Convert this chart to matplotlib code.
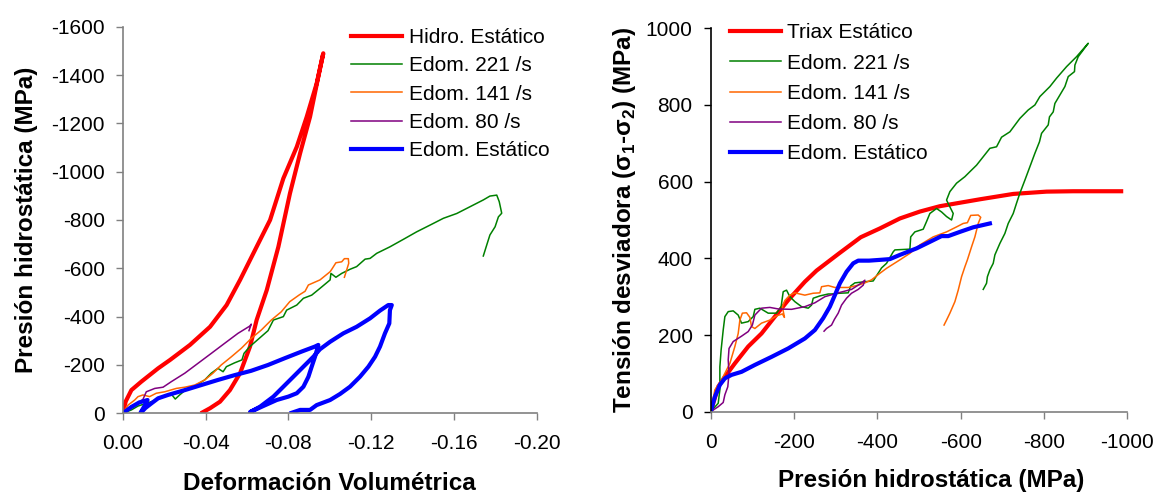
import matplotlib
matplotlib.use("Agg")
import matplotlib.pyplot as plt

plt.rcParams['font.family'] = ['Liberation Sans', 'DejaVu Sans']
plt.rcParams['mathtext.fontset'] = 'custom'
plt.rcParams['mathtext.rm'] = 'Liberation Sans'
plt.rcParams['mathtext.bf'] = 'Liberation Sans:bold'
plt.rcParams['axes.unicode_minus'] = False

# ---------------- Left panel data (Deformación volumétrica vs Presión hidrostática)
hidro_x = [0, -0.0015, -0.0042, -0.0090, -0.0171, -0.0229, -0.0325, -0.0422, -0.0502, -0.0567,
           -0.0647, -0.0712, -0.0776, -0.0841, -0.0889, -0.0937, -0.0969,
           -0.0945, -0.0905, -0.0857, -0.0808, -0.0752, -0.0696, -0.0647, -0.0615, -0.0567,
           -0.0518, -0.0470, -0.0422, -0.0386]
hidro_y = [0, -50, -96, -131, -186, -221, -283, -358, -448, -552,
           -689, -800, -972, -1103, -1227, -1365, -1490,
           -1393, -1227, -1076, -910, -689, -510, -386, -276, -166,
           -96, -48, -21, -4]

e221_x = [0, -0.0042, -0.0074, -0.0138, -0.0203, -0.0235, -0.0254, -0.0275, -0.0307, -0.0356,
          -0.0396, -0.0428, -0.0460, -0.0485, -0.0501, -0.0541, -0.0576, -0.0586, -0.0614, -0.0654,
          -0.0702, -0.0728, -0.0776, -0.0792, -0.0841, -0.0873, -0.0913, -0.0953, -0.1002, -0.1006,
          -0.1030, -0.1058, -0.1098, -0.1130, -0.1171, -0.1195, -0.1227, -0.1291, -0.1356, -0.1420,
          -0.1485, -0.1549, -0.1614, -0.1678, -0.1742, -0.1774, -0.1807, -0.1819, -0.1831, -0.1815,
          -0.1799, -0.1774, -0.1761, -0.1742]
e221_y = [0, -14, -30, -48, -69, -79, -59, -76, -99, -117,
          -138, -166, -186, -172, -193, -209, -221, -248, -276, -306,
          -342, -386, -400, -427, -448, -476, -489, -517, -552, -579,
          -563, -579, -596, -607, -638, -641, -662, -689, -720, -751,
          -779, -807, -827, -855, -883, -899, -903, -876, -828, -813,
          -772, -738, -703, -651]

e141_x = [0, -0.0026, -0.0058, -0.0074, -0.0098, -0.0130, -0.0162, -0.0203, -0.0259, -0.0300,
          -0.0348, -0.0396, -0.0436, -0.0476, -0.0525, -0.0573, -0.0621, -0.0670, -0.0718, -0.0766,
          -0.0807, -0.0853, -0.0881, -0.0897, -0.0953, -0.1002, -0.1010, -0.1030, -0.1058, -0.1071,
          -0.1090, -0.1092, -0.1082, -0.1071]
e141_y = [0, -34, -55, -69, -76, -69, -83, -89, -103, -108,
          -117, -138, -166, -200, -234, -269, -310, -345, -386, -420,
          -462, -490, -505, -531, -552, -586, -596, -623, -627, -640,
          -640, -621, -593, -563]

e80_x = [0, -0.0040, -0.0080, -0.0098, -0.0114, -0.0155, -0.0195, -0.0235, -0.0300, -0.0364,
         -0.0428, -0.0493, -0.0557, -0.0614, -0.0621, -0.0610]
e80_y = [0, -30, -45, -58, -89, -103, -108, -131, -166, -207,
         -248, -290, -331, -361, -369, -342]

edom_x = [0, -0.0040, -0.0080, -0.0120, -0.0105, -0.0090, -0.0085, -0.0110, -0.0140, -0.0171,
          -0.0219, -0.0300, -0.0380, -0.0460, -0.0541, -0.0621, -0.0702, -0.0783, -0.0863, -0.0928,
          -0.0945, -0.0929, -0.0913, -0.0897, -0.0873, -0.0841, -0.0800, -0.0744, -0.0679, -0.0615,
          -0.0663, -0.0728, -0.0776, -0.0824, -0.0873, -0.0921, -0.0953, -0.1002, -0.1066, -0.1130,
          -0.1195, -0.1243, -0.1283, -0.1300, -0.1291, -0.1288, -0.1267, -0.1243, -0.1219, -0.1187,
          -0.1146, -0.1098, -0.1050, -0.1002, -0.0937, -0.0905, -0.0857, -0.0816]
edom_y = [0, -25, -45, -55, -30, -8, 0, -22, -42, -62,
          -76, -96, -117, -138, -158, -176, -200, -228, -255, -276,
          -283, -234, -193, -151, -110, -83, -69, -55, -30, -5,
          -27, -69, -110, -151, -193, -234, -265, -296, -331, -358,
          -393, -425, -448, -448, -427, -372, -331, -276, -234, -193,
          -151, -110, -80, -55, -34, -14, -14, -2]

left_xticks = [0.0, -0.04, -0.08, -0.12, -0.16, -0.20]
left_xticklabels = ['0.00', '-0.04', '-0.08', '-0.12', '-0.16', '-0.20']
left_yticks = [0, -200, -400, -600, -800, -1000, -1200, -1400, -1600]
left_yticklabels = ['0', '-200', '-400', '-600', '-800', '-1000', '-1200', '-1400', '-1600']

# ---------------- Right panel data (Presión hidrostática vs Tensión desviadora)
triax_x = [0, -18, -34, -58, -90, -122, -154, -186, -226, -254, -307, -360, -406, -454, -502,
           -550, -598, -646, -726, -806, -870, -985]
triax_y = [0, 65, 91, 126, 170, 204, 248, 291, 339, 368, 412, 455, 478, 504, 522,
           536, 545, 554, 568, 574, 575, 575]

r221_x = [0, -18, -22, -22, -25, -30, -34, -42, -54, -66, -74, -90, -102, -106, -118, -138, -158,
          -169, -174, -182, -190, -202, -218, -234, -242, -246, -262, -282, -290, -310, -330,
          -336, -346, -370, -390, -410, -422, -438, -442, -478, -480, -490, -510, -518, -526,
          -542, -554, -566, -578, -582, -570, -566, -574, -590, -610, -622, -638, -654, -670,
          -686, -698, -718, -742, -762, -778, -790, -814, -830, -854, -878, -906,
          -882, -874, -873, -858, -850, -826, -822, -813, -810, -794, -789, -778, -766, -754,
          -742, -734, -726, -714, -706, -694, -682, -678, -670, -664, -662, -654]
r221_y = [0, 22, 57, 117, 161, 213, 248, 261, 263, 252, 231, 235, 248, 267, 270, 257, 257,
          274, 313, 317, 300, 287, 274, 270, 278, 296, 302, 307, 307, 309, 310,
          328, 336, 339, 341, 375, 387, 417, 422, 424, 456, 469, 476, 496, 517,
          530, 521, 509, 500, 517, 543, 552, 574, 596, 613, 626, 643, 665, 687,
          691, 716, 730, 765, 787, 800, 822, 848, 870, 900, 926, 961,
          926, 904, 887, 874, 848, 804, 782, 769, 748, 726, 704, 674, 639, 604,
          570, 544, 517, 491, 465, 439, 409, 387, 370, 352, 335, 319]

r141_x = [0, -10, -26, -46, -58, -66, -70, -76, -86, -94, -98, -106, -122, -142, -158, -172,
          -177, -172, -178, -190, -202, -226, -246, -262, -266, -282, -298, -330, -354, -370,
          -386, -406, -422, -438, -454, -478, -502, -534, -566, -590, -606, -616, -624, -642,
          -648, -642, -634, -626, -616, -610, -602, -594, -586, -574, -566, -560]
r141_y = [0, 57, 83, 126, 170, 204, 239, 257, 258, 246, 222, 217, 231, 239, 250, 255,
          246, 274, 290, 304, 310, 304, 309, 310, 326, 329, 324, 324, 330, 336,
          344, 361, 374, 385, 396, 413, 435, 456, 469, 482, 491, 493, 512, 513,
          507, 491, 456, 430, 396, 378, 352, 317, 287, 257, 239, 226]

r80_x = [0, -18, -30, -34, -41, -44, -42, -44, -54, -74, -90, -100, -106, -122, -142, -162,
         -194, -226, -250, -274, -306, -338, -358, -370, -366, -354, -338, -326, -314, -306,
         -297, -290, -278, -272]
r80_y = [0, 13, 24, 44, 65, 100, 135, 165, 183, 197, 209, 226, 252, 270, 272, 268,
         267, 274, 284, 300, 310, 319, 333, 343, 330, 319, 309, 296, 278, 257,
         241, 226, 217, 210]

redom_x = [0, -10, -22, -34, -50, -74, -106, -146, -186, -226, -250, -270, -286, -298, -310,
           -326, -342, -354, -380, -406, -430, -454, -494, -526, -554, -570, -598, -630, -670]
redom_y = [0, 39, 70, 87, 96, 104, 122, 143, 165, 191, 213, 244, 274, 304, 335,
           365, 387, 394, 394, 396, 398, 409, 426, 443, 458, 458, 469, 481, 491]

right_xticks = [0, -200, -400, -600, -800, -1000]
right_xticklabels = ['0', '-200', '-400', '-600', '-800', '-1000']
right_yticks = [0, 200, 400, 600, 800, 1000]
right_yticklabels = ['0', '200', '400', '600', '800', '1000']

RED = '#FF0000'
GREEN = '#008000'
ORANGE = '#FF6600'
PURPLE = '#800080'
BLUE = '#0000FF'
GRAY = '#808080'
THICK = 3.0
THIN = 1.1
TICKFS = 15
LABELFS = 17.5

W, H = 1159, 496
fig = plt.figure(figsize=(W / 100, H / 100), dpi=100)

def px_axes(x0, x1, ytop, ybot):
    return fig.add_axes([x0 / W, 1 - ybot / H, (x1 - x0) / W, (ybot - ytop) / H])

ax1 = px_axes(122.7, 536.7, 26.7, 413.3)
ax2 = px_axes(710.7, 1127.4, 28.3, 411.7)

# left panel
ax1.plot(hidro_x, hidro_y, color=RED, lw=THICK, label='Hidro. Estático', solid_joinstyle='round')
ax1.plot(e221_x, e221_y, color=GREEN, lw=THIN, label='Edom. 221 /s')
ax1.plot(e141_x, e141_y, color=ORANGE, lw=THIN, label='Edom. 141 /s')
ax1.plot(e80_x, e80_y, color=PURPLE, lw=THIN, label='Edom. 80 /s')
ax1.plot(edom_x, edom_y, color=BLUE, lw=THICK, label='Edom. Estático', solid_joinstyle='round')
ax1.set_xlim(0, -0.20)
ax1.set_ylim(0, -1600)
ax1.set_xticks(left_xticks)
ax1.set_xticklabels(left_xticklabels)
ax1.set_yticks(left_yticks)
ax1.set_yticklabels(left_yticklabels)
ax1.set_xlabel('Deformación Volumétrica', fontsize=LABELFS, fontweight='bold')
ax1.set_ylabel('Presión hidrostática (MPa)', fontsize=LABELFS, fontweight='bold')
ax1.xaxis.set_label_coords(0.5, -0.152)
ax1.yaxis.set_label_coords(-0.205, 0.5)
ax1.legend(loc='upper left', bbox_to_anchor=(0.552, 0.997), frameon=False, fontsize=TICKFS,
           handlelength=2.45, handletextpad=0.3, labelspacing=0.45, borderpad=0, borderaxespad=0)

# right panel
ax2.plot(triax_x, triax_y, color=RED, lw=THICK, label='Triax Estático', solid_joinstyle='round')
ax2.plot(r221_x, r221_y, color=GREEN, lw=THIN, label='Edom. 221 /s')
ax2.plot(r141_x, r141_y, color=ORANGE, lw=THIN, label='Edom. 141 /s')
ax2.plot(r80_x, r80_y, color=PURPLE, lw=THIN, label='Edom. 80 /s')
ax2.plot(redom_x, redom_y, color=BLUE, lw=THICK, label='Edom. Estático', solid_joinstyle='round')
ax2.set_xlim(0, -1000)
ax2.set_ylim(0, 1000)
ax2.set_xticks(right_xticks)
ax2.set_xticklabels(right_xticklabels)
ax2.set_yticks(right_yticks)
ax2.set_yticklabels(right_yticklabels)
ax2.set_xlabel('Presión hidrostática (MPa)', fontsize=LABELFS, fontweight='bold')
ax2.set_ylabel(r'Tensión desviadora (σ$_\mathbf{1}$-σ$_\mathbf{2}$) (MPa)', fontsize=LABELFS,
               fontweight='bold')
ax2.xaxis.set_label_coords(0.53, -0.15)
ax2.yaxis.set_label_coords(-0.175, 0.5)
ax2.legend(loc='upper left', bbox_to_anchor=(0.046, 1.013), frameon=False, fontsize=TICKFS,
           handlelength=2.45, handletextpad=0.3, labelspacing=0.54, borderpad=0, borderaxespad=0)

spine_colors = {ax1: (GRAY, GRAY), ax2: (GRAY, 'black')}
for ax, (xc, yc) in spine_colors.items():
    for s in ('top', 'right'):
        ax.spines[s].set_visible(False)
    ax.spines['bottom'].set_color(xc)
    ax.spines['left'].set_color(yc)
    ax.spines['bottom'].set_linewidth(1.2)
    ax.spines['left'].set_linewidth(1.2)
    ax.tick_params(axis='x', direction='out', length=5, width=1.0, color=xc,
                   labelsize=TICKFS, labelcolor='black', pad=10)
    ax.tick_params(axis='y', direction='out', length=5, width=1.0, color=yc,
                   labelsize=TICKFS, labelcolor='black', pad=8)

fig.savefig('out.png', dpi=100)
